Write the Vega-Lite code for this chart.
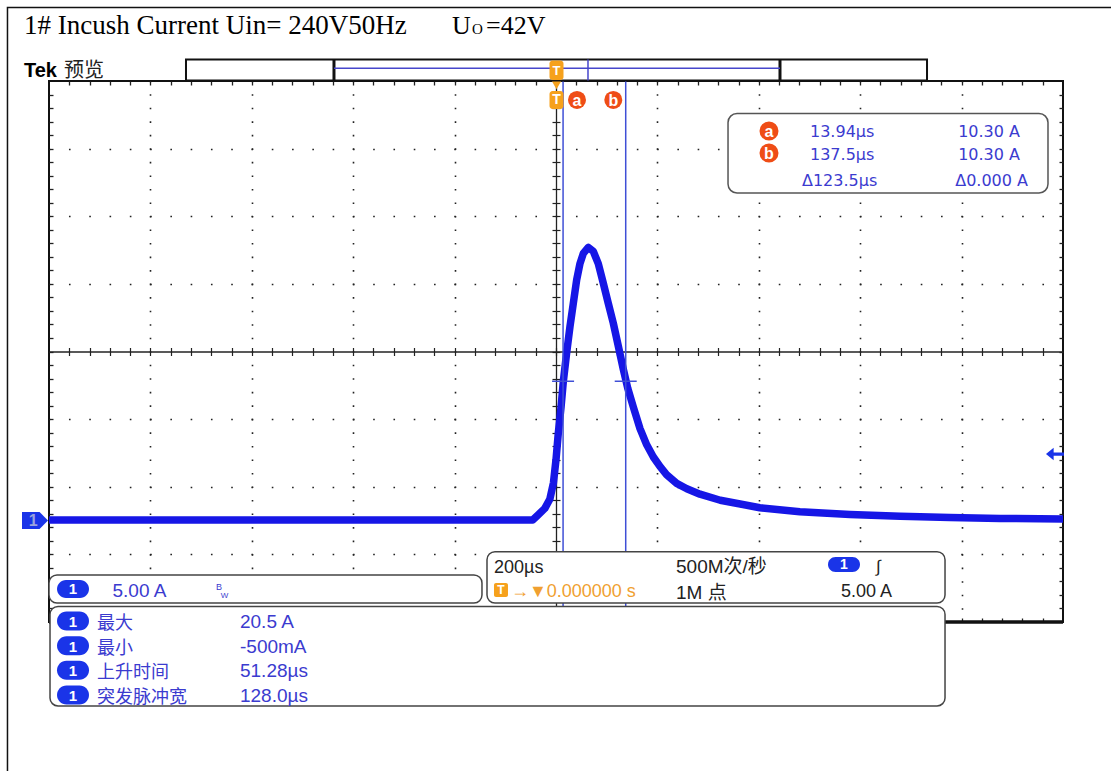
{
"$schema":"https://vega.github.io/schema/vega-lite/v6.json",
"width":1014,"height":541,
"autosize":{"type":"none"},
"padding":{"left":49,"top":81,"right":48,"bottom":149},
"background":"white",
"config":{"view":{"stroke":"#111111","strokeWidth":2},"axis":{"disable":true}},
"data":{"values":[{}]},
"datasets":{
"wave":[{"t":-1000,"i":0.05},{"t":-500,"i":0.05},{"t":-46,"i":0.05},{"t":-36,"i":0.4},{"t":-22,"i":0.9},{"t":-12,"i":1.6},{"t":-5,"i":2.8},{"t":0,"i":4.5},{"t":4.5,"i":6.45},{"t":10,"i":8.4},{"t":14.5,"i":10.3},{"t":21,"i":12.4},{"t":27.6,"i":14.35},{"t":34.1,"i":16.05},{"t":40.8,"i":17.8},{"t":47.3,"i":19.0},{"t":53.9,"i":19.75},{"t":63.7,"i":20.2},{"t":73.6,"i":19.9},{"t":83.4,"i":19.0},{"t":93.3,"i":17.55},{"t":103.2,"i":16.05},{"t":113,"i":14.6},{"t":122.9,"i":12.9},{"t":132.7,"i":11.2},{"t":141.4,"i":9.8},{"t":152.5,"i":8.4},{"t":165.7,"i":6.8},{"t":178.9,"i":5.6},{"t":192,"i":4.7},{"t":205,"i":4.0},{"t":218,"i":3.4},{"t":238,"i":2.75},{"t":258,"i":2.35},{"t":284,"i":1.95},{"t":324,"i":1.5},{"t":402,"i":0.95},{"t":481,"i":0.65},{"t":580,"i":0.45},{"t":679,"i":0.32},{"t":777,"i":0.22},{"t":876,"i":0.16},{"t":1000,"i":0.12}],
"cursors":[{"cursor":"a","t":13.94,"i":10.30},{"cursor":"b","t":137.5,"i":10.30}]
},
"resolve":{"axis":{"x":"independent","y":"independent"}},
"layer":[
{"data":{"name":"wave"},"mark":{"type":"line","color":"#1616e6","strokeWidth":7.5,"strokeJoin":"round"},
 "encoding":{
  "x":{"field":"t","type":"quantitative","scale":{"domain":[-1000,1000],"nice":false,"zero":false},"axis":{"orient":"bottom","grid":true,"values":[-800,-600,-400,-200,200,400,600,800],"gridColor":"#222222","gridWidth":1.6,"gridDash":[1.6,11.925],"gridDashOffset":0.8,"ticks":false,"labels":false,"domain":false,"title":null}},
  "y":{"field":"i","type":"quantitative","scale":{"domain":[-7.5,32.5],"nice":false,"zero":false},"axis":{"orient":"left","grid":true,"values":[-2.5,2.5,7.5,17.5,22.5,27.5],"gridColor":"#222222","gridWidth":1.6,"gridDash":[1.6,18.68],"gridDashOffset":0.8,"ticks":false,"labels":false,"domain":false,"title":null}}}},
{"mark":{"type":"point","opacity":0},"encoding":{
  "x":{"datum":0,"type":"quantitative","axis":{"orient":"top","offset":-270.5,"values":[-960,-920,-880,-840,-800,-760,-720,-680,-640,-600,-560,-520,-480,-440,-400,-360,-320,-280,-240,-200,-160,-120,-80,-40,0,40,80,120,160,200,240,280,320,360,400,440,480,520,560,600,640,680,720,760,800,840,880,920,960],"tickSize":4,"tickColor":"#222222","tickWidth":1.2,"domain":true,"domainColor":"#222222","domainWidth":1.3,"labels":false,"grid":false,"title":null}},
  "y":{"datum":12.5,"type":"quantitative","axis":{"orient":"left","offset":-507,"values":[-6.5,-5.5,-4.5,-3.5,-2.5,-1.5,-0.5,0.5,1.5,2.5,3.5,4.5,5.5,6.5,7.5,8.5,9.5,10.5,11.5,12.5,13.5,14.5,15.5,16.5,17.5,18.5,19.5,20.5,21.5,22.5,23.5,24.5,25.5,26.5,27.5,28.5,29.5,30.5,31.5],"tickSize":4,"tickColor":"#222222","tickWidth":1.2,"domain":true,"domainColor":"#222222","domainWidth":1.3,"labels":false,"grid":false,"title":null}}}},
{"mark":{"type":"point","opacity":0},"encoding":{
  "x":{"datum":0,"type":"quantitative","axis":{"orient":"bottom","offset":-270.5,"values":[-960,-920,-880,-840,-800,-760,-720,-680,-640,-600,-560,-520,-480,-440,-400,-360,-320,-280,-240,-200,-160,-120,-80,-40,0,40,80,120,160,200,240,280,320,360,400,440,480,520,560,600,640,680,720,760,800,840,880,920,960],"tickSize":4,"tickColor":"#222222","tickWidth":1.2,"domain":false,"labels":false,"grid":false,"title":null}},
  "y":{"datum":12.5,"type":"quantitative","axis":{"orient":"right","offset":-507,"values":[-6.5,-5.5,-4.5,-3.5,-2.5,-1.5,-0.5,0.5,1.5,2.5,3.5,4.5,5.5,6.5,7.5,8.5,9.5,10.5,11.5,12.5,13.5,14.5,15.5,16.5,17.5,18.5,19.5,20.5,21.5,22.5,23.5,24.5,25.5,26.5,27.5,28.5,29.5,30.5,31.5],"tickSize":4,"tickColor":"#222222","tickWidth":1.2,"domain":false,"labels":false,"grid":false,"title":null}}}},
{"mark":{"type":"point","opacity":0},"encoding":{
  "x":{"datum":0,"type":"quantitative","axis":{"orient":"bottom","offset":-541,"values":[-960,-920,-880,-840,-800,-760,-720,-680,-640,-600,-560,-520,-480,-440,-400,-360,-320,-280,-240,-200,-160,-120,-80,-40,0,40,80,120,160,200,240,280,320,360,400,440,480,520,560,600,640,680,720,760,800,840,880,920,960],"tickSize":4,"tickColor":"#222222","tickWidth":1.3,"domain":false,"labels":false,"grid":false,"title":null}},
  "y":{"datum":12.5,"type":"quantitative","axis":{"orient":"right","offset":-1014,"values":[-6.5,-5.5,-4.5,-3.5,-2.5,-1.5,-0.5,0.5,1.5,2.5,3.5,4.5,5.5,6.5,7.5,8.5,9.5,10.5,11.5,12.5,13.5,14.5,15.5,16.5,17.5,18.5,19.5,20.5,21.5,22.5,23.5,24.5,25.5,26.5,27.5,28.5,29.5,30.5,31.5],"tickSize":4,"tickColor":"#222222","tickWidth":1.3,"domain":false,"labels":false,"grid":false,"title":null}}}},
{"mark":{"type":"point","opacity":0},"encoding":{
  "x":{"datum":0,"type":"quantitative","axis":{"orient":"top","offset":-541,"values":[-960,-920,-880,-840,-800,-760,-720,-680,-640,-600,-560,-520,-480,-440,-400,-360,-320,-280,-240,-200,-160,-120,-80,-40,0,40,80,120,160,200,240,280,320,360,400,440,480,520,560,600,640,680,720,760,800,840,880,920,960],"tickSize":4,"tickColor":"#222222","tickWidth":1.3,"domain":false,"labels":false,"grid":false,"title":null}},
  "y":{"datum":12.5,"type":"quantitative","axis":{"orient":"left","offset":-1014,"values":[-6.5,-5.5,-4.5,-3.5,-2.5,-1.5,-0.5,0.5,1.5,2.5,3.5,4.5,5.5,6.5,7.5,8.5,9.5,10.5,11.5,12.5,13.5,14.5,15.5,16.5,17.5,18.5,19.5,20.5,21.5,22.5,23.5,24.5,25.5,26.5,27.5,28.5,29.5,30.5,31.5],"tickSize":4,"tickColor":"#222222","tickWidth":1.3,"domain":false,"labels":false,"grid":false,"title":null}}}},
{"data":{"name":"cursors"},"mark":{"type":"rule","color":"#3f4fd6","strokeWidth":1.5},"encoding":{"x":{"field":"t","type":"quantitative"},"y":{"datum":32.5},"y2":{"datum":-7.5}}},
{"data":{"name":"cursors"},"mark":{"type":"tick","orient":"horizontal","size":22,"thickness":1.5,"color":"#3f4fd6","opacity":1},"encoding":{"x":{"field":"t","type":"quantitative"},"y":{"field":"i","type":"quantitative"}}},
{"mark":{"type":"rule","color":"#111111","strokeWidth":3.5},"encoding":{"x":{"datum":-1000},"x2":{"datum":1000},"y":{"datum":-7.5}}},
{"mark":{"type":"rect","fill":"#f6a11c","cornerRadius":3},"encoding":{"x":{"datum":-12.8},"x2":{"datum":14.8},"y":{"datum":31.76},"y2":{"datum":30.43}}},
{"mark":{"type":"point","shape":"triangle-down","filled":true,"fill":"#f6a11c","size":90,"opacity":1},"encoding":{"x":{"datum":1},"y":{"datum":32.2}}},
{"mark":{"type":"text","text":"T","font":"Liberation Sans","fontWeight":"bold","fontSize":14,"fill":"white","align":"center","baseline":"middle"},"encoding":{"x":{"datum":1},"y":{"datum":31.1}}},
{"mark":{"type":"point","shape":"circle","filled":true,"fill":"#ef4d16","size":324,"opacity":1},"encoding":{"x":{"datum":41.4},"y":{"datum":31.1}}},
{"mark":{"type":"text","text":"a","font":"Liberation Sans","fontWeight":"bold","fontSize":16,"fill":"white","align":"center","baseline":"middle"},"encoding":{"x":{"datum":41.4},"y":{"datum":31.05}}},
{"mark":{"type":"point","shape":"circle","filled":true,"fill":"#ef4d16","size":324,"opacity":1},"encoding":{"x":{"datum":113.0},"y":{"datum":31.1}}},
{"mark":{"type":"text","text":"b","font":"Liberation Sans","fontWeight":"bold","fontSize":16,"fill":"white","align":"center","baseline":"middle"},"encoding":{"x":{"datum":113.0},"y":{"datum":31.05}}},
{"mark":{"type":"point","shape":"M-1,-0.65L0.35,-0.65L1,0L0.35,0.65L-1,0.65Z","filled":true,"fill":"#1a34e8","size":676,"opacity":1},"encoding":{"x":{"datum":-1027.6},"y":{"datum":0}}},
{"mark":{"type":"text","text":"1","font":"Liberation Sans","fontWeight":"bold","fontSize":16,"fill":"#9aa2dc","align":"center","baseline":"middle"},"encoding":{"x":{"datum":-1031},"y":{"datum":0}}},
{"mark":{"type":"point","shape":"M-1,0L-0.15,-0.7L-0.15,-0.18L1,-0.18L1,0.18L-0.15,0.18L-0.15,0.7Z","filled":true,"fill":"#1a34e8","size":324,"opacity":1},"encoding":{"x":{"datum":984.2},"y":{"datum":4.92}}},
{"mark":{"type":"rect","fill":"white","stroke":"#555555","strokeWidth":1.5,"cornerRadius":9},"encoding":{"x":{"datum":339.3},"x2":{"datum":970.4},"y":{"datum":30.10},"y2":{"datum":24.22}}},
{"mark":{"type":"point","shape":"circle","filled":true,"fill":"#ef4d16","size":361,"opacity":1},"encoding":{"x":{"datum":420.1},"y":{"datum":28.80}}},
{"mark":{"type":"text","text":"a","font":"Liberation Sans","fontWeight":"bold","fontSize":16,"fill":"white","align":"center","baseline":"middle"},"encoding":{"x":{"datum":420.1},"y":{"datum":28.75}}},
{"mark":{"type":"point","shape":"circle","filled":true,"fill":"#ef4d16","size":361,"opacity":1},"encoding":{"x":{"datum":420.1},"y":{"datum":27.18}}},
{"mark":{"type":"text","text":"b","font":"Liberation Sans","fontWeight":"bold","fontSize":16,"fill":"white","align":"center","baseline":"middle"},"encoding":{"x":{"datum":420.1},"y":{"datum":27.13}}},
{"mark":{"type":"text","text":"13.94µs","font":"DejaVu Sans","fontSize":16,"fill":"#3b3bcf","align":"left","baseline":"alphabetic"},"encoding":{"x":{"datum":501},"y":{"datum":28.36}}},
{"mark":{"type":"text","text":"137.5µs","font":"DejaVu Sans","fontSize":16,"fill":"#3b3bcf","align":"left","baseline":"alphabetic"},"encoding":{"x":{"datum":501},"y":{"datum":26.66}}},
{"mark":{"type":"text","text":"10.30 A","font":"DejaVu Sans","fontSize":16,"fill":"#3b3bcf","align":"right","baseline":"alphabetic"},"encoding":{"x":{"datum":915.2},"y":{"datum":28.36}}},
{"mark":{"type":"text","text":"10.30 A","font":"DejaVu Sans","fontSize":16,"fill":"#3b3bcf","align":"right","baseline":"alphabetic"},"encoding":{"x":{"datum":915.2},"y":{"datum":26.66}}},
{"mark":{"type":"text","text":"Δ123.5µs","font":"DejaVu Sans","fontSize":16,"fill":"#3b3bcf","align":"left","baseline":"alphabetic"},"encoding":{"x":{"datum":485.2},"y":{"datum":24.74}}},
{"mark":{"type":"text","text":"Δ0.000 A","font":"DejaVu Sans","fontSize":16,"fill":"#3b3bcf","align":"right","baseline":"alphabetic"},"encoding":{"x":{"datum":930.9},"y":{"datum":24.74}}},
{"mark":{"type":"rect","fill":"white","stroke":"#111111","strokeWidth":2},"encoding":{"x":{"datum":-729.8},"x2":{"datum":731.8},"y":{"datum":34.09},"y2":{"datum":32.54}}},
{"mark":{"type":"rule","color":"#111111","strokeWidth":3},"encoding":{"x":{"datum":-437.9},"y":{"datum":34.09},"y2":{"datum":32.54}}},
{"mark":{"type":"rule","color":"#111111","strokeWidth":3},"encoding":{"x":{"datum":441.8},"y":{"datum":34.09},"y2":{"datum":32.54}}},
{"mark":{"type":"rule","color":"#4646cc","strokeWidth":1.5},"encoding":{"x":{"datum":-437.9},"x2":{"datum":441.8},"y":{"datum":33.44}}},
{"mark":{"type":"rule","color":"#4646cc","strokeWidth":1.5},"encoding":{"x":{"datum":63.1},"y":{"datum":34.09},"y2":{"datum":32.54}}},
{"mark":{"type":"rect","fill":"#f6a11c","cornerRadius":3},"encoding":{"x":{"datum":-12.8},"x2":{"datum":14.8},"y":{"datum":34.02},"y2":{"datum":32.57}}},
{"mark":{"type":"text","text":"T","font":"Liberation Sans","fontWeight":"bold","fontSize":13,"fill":"white","align":"center","baseline":"middle"},"encoding":{"x":{"datum":1},"y":{"datum":33.25}}},
{"mark":{"type":"text","text":"1# Incush Current Uin= 240V50Hz","font":"Liberation Serif","fontSize":27,"fill":"black","align":"left","baseline":"alphabetic"},"encoding":{"x":{"datum":-1049.3},"y":{"datum":35.95}}},
{"mark":{"type":"text","text":"U","font":"Liberation Serif","fontSize":26,"fill":"black","align":"left","baseline":"alphabetic"},"encoding":{"x":{"datum":-205.1},"y":{"datum":35.95}}},
{"mark":{"type":"text","text":"O","font":"Liberation Serif","fontSize":15,"fill":"black","align":"left","baseline":"alphabetic"},"encoding":{"x":{"datum":-165.7},"y":{"datum":35.95}}},
{"mark":{"type":"text","text":"=42V","font":"Liberation Serif","fontSize":26,"fill":"black","align":"left","baseline":"alphabetic"},"encoding":{"x":{"datum":-138.0},"y":{"datum":35.95}}},
{"mark":{"type":"text","text":"Tek","font":"Liberation Sans","fontWeight":"bold","fontSize":20,"fill":"black","align":"left","baseline":"alphabetic"},"encoding":{"x":{"datum":-1049.3},"y":{"datum":32.8}}},
{"mark":{"type":"text","text":"预览","font":"Noto Sans CJK SC","fontSize":20,"fill":"#222222","align":"left","baseline":"alphabetic"},"encoding":{"x":{"datum":-970.4},"y":{"datum":32.8}}},
{"mark":{"type":"rect","fill":"white","stroke":"#444444","strokeWidth":1.5,"cornerRadius":8},"encoding":{"x":{"datum":-998},"x2":{"datum":767.3},"y":{"datum":-6.35},"y2":{"datum":-13.71}}},
{"mark":{"type":"rect","fill":"#1a34e8","cornerRadius":9.5},"encoding":{"x":{"datum":-984.2},"x2":{"datum":-921.1},"y":{"datum":-6.72},"y2":{"datum":-8.13}}},
{"mark":{"type":"rect","fill":"#1a34e8","cornerRadius":9.5},"encoding":{"x":{"datum":-984.2},"x2":{"datum":-921.1},"y":{"datum":-8.55},"y2":{"datum":-9.96}}},
{"mark":{"type":"rect","fill":"#1a34e8","cornerRadius":9.5},"encoding":{"x":{"datum":-984.2},"x2":{"datum":-921.1},"y":{"datum":-10.37},"y2":{"datum":-11.77}}},
{"mark":{"type":"rect","fill":"#1a34e8","cornerRadius":9.5},"encoding":{"x":{"datum":-984.2},"x2":{"datum":-921.1},"y":{"datum":-12.19},"y2":{"datum":-13.60}}},
{"mark":{"type":"text","text":"1","font":"Liberation Sans","fontWeight":"bold","fontSize":15,"fill":"white","align":"center","baseline":"alphabetic"},"encoding":{"x":{"datum":-952.7},"y":{"datum":-7.87}}},
{"mark":{"type":"text","text":"1","font":"Liberation Sans","fontWeight":"bold","fontSize":15,"fill":"white","align":"center","baseline":"alphabetic"},"encoding":{"x":{"datum":-952.7},"y":{"datum":-9.70}}},
{"mark":{"type":"text","text":"1","font":"Liberation Sans","fontWeight":"bold","fontSize":15,"fill":"white","align":"center","baseline":"alphabetic"},"encoding":{"x":{"datum":-952.7},"y":{"datum":-11.52}}},
{"mark":{"type":"text","text":"1","font":"Liberation Sans","fontWeight":"bold","fontSize":15,"fill":"white","align":"center","baseline":"alphabetic"},"encoding":{"x":{"datum":-952.7},"y":{"datum":-13.35}}},
{"mark":{"type":"text","text":"最大","font":"Noto Sans CJK SC","fontSize":18,"fill":"#3b3bcf","align":"left","baseline":"alphabetic"},"encoding":{"x":{"datum":-905.3},"y":{"datum":-8.02}}},
{"mark":{"type":"text","text":"最小","font":"Noto Sans CJK SC","fontSize":18,"fill":"#3b3bcf","align":"left","baseline":"alphabetic"},"encoding":{"x":{"datum":-905.3},"y":{"datum":-9.85}}},
{"mark":{"type":"text","text":"上升时间","font":"Noto Sans CJK SC","fontSize":18,"fill":"#3b3bcf","align":"left","baseline":"alphabetic"},"encoding":{"x":{"datum":-905.3},"y":{"datum":-11.67}}},
{"mark":{"type":"text","text":"突发脉冲宽","font":"Noto Sans CJK SC","fontSize":18,"fill":"#3b3bcf","align":"left","baseline":"alphabetic"},"encoding":{"x":{"datum":-905.3},"y":{"datum":-13.50}}},
{"mark":{"type":"text","text":"20.5 A","font":"Liberation Sans","fontSize":19,"fill":"#3b3bcf","align":"left","baseline":"alphabetic"},"encoding":{"x":{"datum":-623.3},"y":{"datum":-7.94}}},
{"mark":{"type":"text","text":"-500mA","font":"Liberation Sans","fontSize":19,"fill":"#3b3bcf","align":"left","baseline":"alphabetic"},"encoding":{"x":{"datum":-623.3},"y":{"datum":-9.77}}},
{"mark":{"type":"text","text":"51.28µs","font":"Liberation Sans","fontSize":19,"fill":"#3b3bcf","align":"left","baseline":"alphabetic"},"encoding":{"x":{"datum":-623.3},"y":{"datum":-11.59}}},
{"mark":{"type":"text","text":"128.0µs","font":"Liberation Sans","fontSize":19,"fill":"#3b3bcf","align":"left","baseline":"alphabetic"},"encoding":{"x":{"datum":-623.3},"y":{"datum":-13.42}}},
{"mark":{"type":"rect","fill":"white","stroke":"#444444","strokeWidth":1.5,"cornerRadius":8},"encoding":{"x":{"datum":-1000},"x2":{"datum":-146.0},"y":{"datum":-4.02},"y2":{"datum":-6.10}}},
{"mark":{"type":"rect","fill":"#1a34e8","cornerRadius":9},"encoding":{"x":{"datum":-984.2},"x2":{"datum":-921.1},"y":{"datum":-4.39},"y2":{"datum":-5.73}}},
{"mark":{"type":"text","text":"1","font":"Liberation Sans","fontWeight":"bold","fontSize":15,"fill":"white","align":"center","baseline":"middle"},"encoding":{"x":{"datum":-952.7},"y":{"datum":-5.06}}},
{"mark":{"type":"text","text":"5.00 A","font":"Liberation Sans","fontSize":19,"fill":"#3b3bcf","align":"left","baseline":"alphabetic"},"encoding":{"x":{"datum":-874.8},"y":{"datum":-5.65}}},
{"mark":{"type":"text","text":"B","font":"Liberation Sans","fontSize":9,"fill":"#3b3bcf","align":"left","baseline":"alphabetic"},"encoding":{"x":{"datum":-670.6},"y":{"datum":-5.13}}},
{"mark":{"type":"text","text":"W","font":"Liberation Sans","fontSize":8,"fill":"#3b3bcf","align":"left","baseline":"alphabetic"},"encoding":{"x":{"datum":-661},"y":{"datum":-5.73}}},
{"mark":{"type":"rect","fill":"white","stroke":"#444444","strokeWidth":1.5,"cornerRadius":8},"encoding":{"x":{"datum":-136.1},"x2":{"datum":767.3},"y":{"datum":-2.30},"y2":{"datum":-6.10}}},
{"mark":{"type":"text","text":"200µs","font":"Liberation Sans","fontSize":18,"fill":"#222222","align":"left","baseline":"alphabetic"},"encoding":{"x":{"datum":-122.3},"y":{"datum":-3.88}}},
{"mark":{"type":"rect","fill":"#f6a11c","cornerRadius":2},"encoding":{"x":{"datum":-122.3},"x2":{"datum":-94.7},"y":{"datum":-4.62},"y2":{"datum":-5.65}}},
{"mark":{"type":"text","text":"T","font":"Liberation Sans","fontWeight":"bold","fontSize":12,"fill":"white","align":"center","baseline":"middle"},"encoding":{"x":{"datum":-108.5},"y":{"datum":-5.13}}},
{"mark":{"type":"text","text":"→▼0.000000 s","font":"Liberation Sans","fontSize":18,"fill":"#f0a030","align":"left","baseline":"alphabetic"},"encoding":{"x":{"datum":-88.8},"y":{"datum":-5.65}}},
{"mark":{"type":"text","text":"500M次/秒","font":"Liberation Sans, Noto Sans CJK SC","fontSize":19,"fill":"#222222","align":"left","baseline":"alphabetic"},"encoding":{"x":{"datum":236.7},"y":{"datum":-3.88}}},
{"mark":{"type":"text","text":"1M 点","font":"Liberation Sans, Noto Sans CJK SC","fontSize":19,"fill":"#222222","align":"left","baseline":"alphabetic"},"encoding":{"x":{"datum":236.7},"y":{"datum":-5.80}}},
{"mark":{"type":"rect","fill":"#1a34e8","cornerRadius":8},"encoding":{"x":{"datum":536.5},"x2":{"datum":599.6},"y":{"datum":-2.69},"y2":{"datum":-3.80}}},
{"mark":{"type":"text","text":"1","font":"Liberation Sans","fontWeight":"bold","fontSize":14,"fill":"white","align":"center","baseline":"middle"},"encoding":{"x":{"datum":568.0},"y":{"datum":-3.25}}},
{"mark":{"type":"text","text":"∫","font":"Liberation Sans","fontSize":17,"fill":"#222222","align":"left","baseline":"alphabetic"},"encoding":{"x":{"datum":631.2},"y":{"datum":-3.80}}},
{"mark":{"type":"text","text":"5.00 A","font":"Liberation Sans","fontSize":18,"fill":"#222222","align":"right","baseline":"alphabetic"},"encoding":{"x":{"datum":662.7},"y":{"datum":-5.65}}},
{"mark":{"type":"rect","fillOpacity":0,"stroke":"#111111","strokeWidth":1.5},"encoding":{"x":{"datum":-1081.9},"x2":{"datum":1112.4},"y":{"datum":37.93},"y2":{"datum":-19.18}}}
]
}
